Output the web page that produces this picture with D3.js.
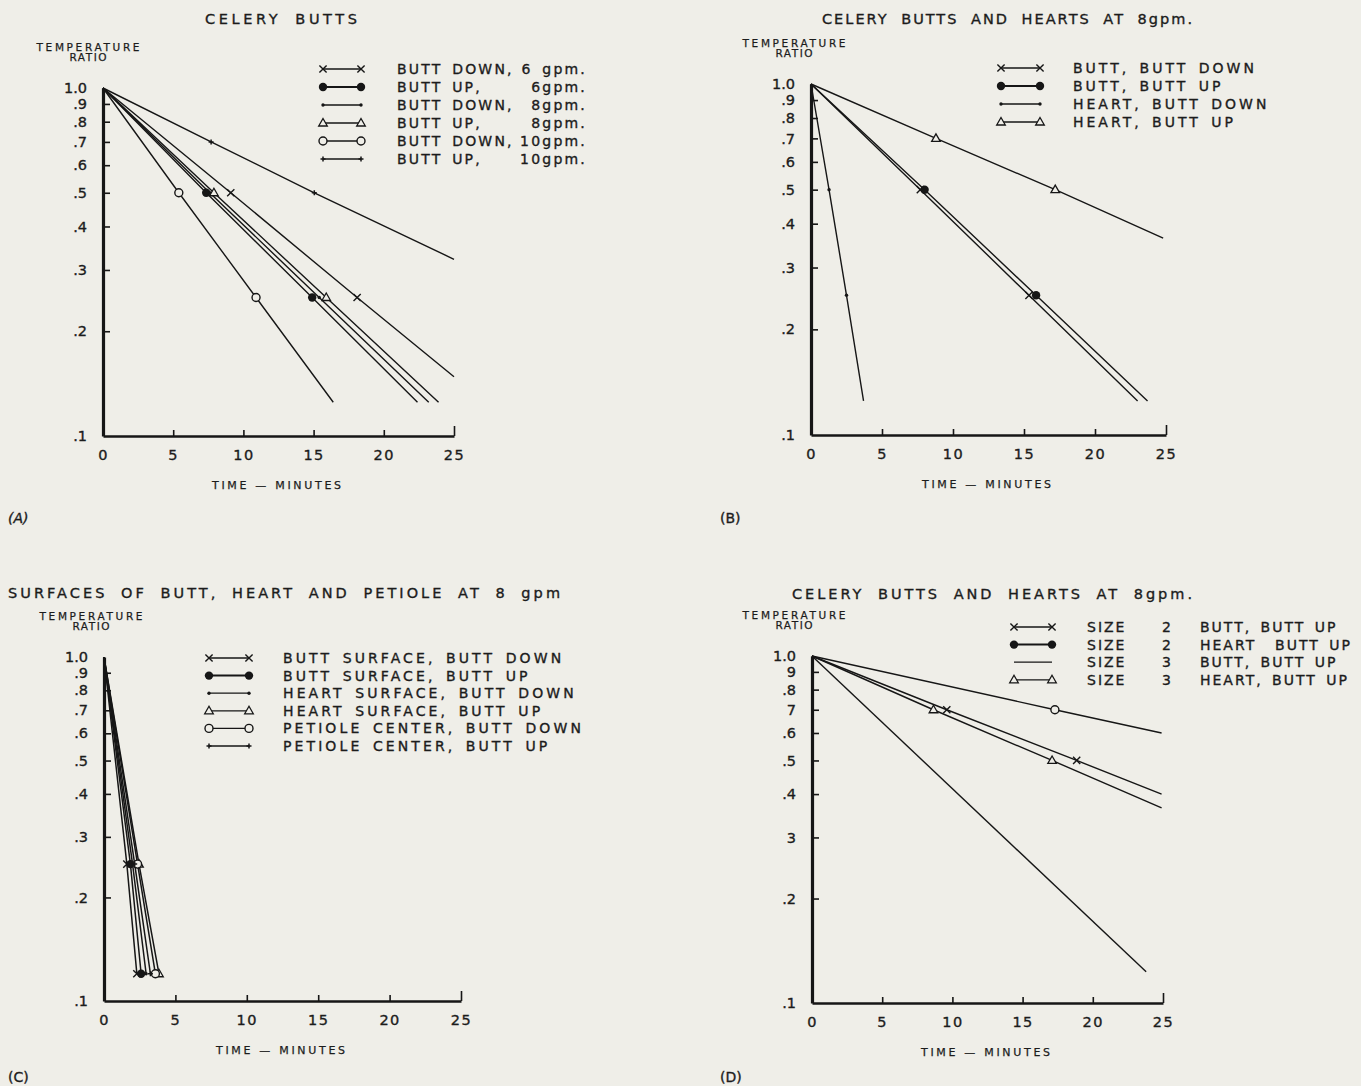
<!DOCTYPE html>
<html><head><meta charset="utf-8">
<script src="https://cdn.jsdelivr.net/npm/d3@7"></script>
<style>
body{margin:0;background:#efeee8;}
svg{display:block;}
text{font-family:"DejaVu Sans",sans-serif;fill:#1c1c1c;stroke:#1c1c1c;stroke-width:0.35px;}
</style></head><body>
<svg id="chart" width="1361" height="1086"></svg>
<script>
// Shared axis ticks
const timeTicks = [0, 5, 10, 15, 20, 25];
const ratioTicks = [1.0, 0.9, 0.8, 0.7, 0.6, 0.5, 0.4, 0.3, 0.2, 0.1];
const ratioLabels = ["1.0", ".9", ".8", ".7", ".6", ".5", ".4", ".3", ".2", ".1"];
const ratioLabelsD = ["1.0", "9", ".8", "7", ".6", ".5", ".4", "3", ".2", ".1"];

// (A) Celery butts: [minutes, temperature ratio]
const aButtDown6 = [[0, 1], [9.1, 0.5], [18.1, 0.25], [25, 0.148]];
const aButtUp6 = [[0, 1], [7.35, 0.5], [14.9, 0.25], [22.4, 0.125]];
const aButtDown8 = [[0, 1], [7.6, 0.5], [15.4, 0.25], [23.2, 0.125]];
const aButtUp8 = [[0, 1], [7.9, 0.5], [15.9, 0.25], [23.9, 0.125]];
const aButtDown10 = [[0, 1], [5.4, 0.5], [10.9, 0.25], [16.4, 0.125]];
const aButtUp10 = [[0, 1], [7.7, 0.7], [15.05, 0.5], [25, 0.322]];
const namesA = ["BUTT DOWN,", "BUTT UP,", "BUTT DOWN,", "BUTT UP,", "BUTT DOWN,", "BUTT UP,"];
const flowsA = ["6 gpm.", "6gpm.", "8gpm.", "8gpm.", "10gpm.", "10gpm."];
const markersA = ["x", "dot", "small", "tri", "circle", "plus"];

// (B) Celery butts and hearts at 8 gpm
const bButtDown = [[0, 1], [7.7, 0.5], [15.35, 0.25], [23.0, 0.125]];
const bButtUp = [[0, 1], [8.0, 0.5], [15.85, 0.25], [23.7, 0.125]];
const bHeartDown = [[0, 1], [1.27, 0.5], [2.5, 0.25], [3.7, 0.125]];
const bHeartUp = [[0, 1], [8.8, 0.7], [17.2, 0.5], [24.8, 0.364]];
const namesB = ["BUTT, BUTT DOWN", "BUTT, BUTT UP", "HEART, BUTT DOWN", "HEART, BUTT UP"];
const markersB = ["x", "dot", "small", "tri"];

// (C) Surfaces of butt, heart and petiole at 8 gpm
const cButtSurfDown = [[0, 1], [1.6, 0.25], [2.3, 0.12]];
const cButtSurfUp = [[0, 1], [1.85, 0.25], [2.6, 0.12]];
const cHeartSurfDown = [[0, 1], [2.0, 0.25], [2.95, 0.12]];
const cHeartSurfUp = [[0, 1], [2.45, 0.25], [3.85, 0.12]];
const cPetioleDown = [[0, 1], [2.35, 0.25], [3.6, 0.12]];
const cPetioleUp = [[0, 1], [2.15, 0.25], [3.25, 0.12]];
const namesC = ["BUTT SURFACE, BUTT DOWN", "BUTT SURFACE, BUTT UP", "HEART SURFACE, BUTT DOWN",
  "HEART SURFACE, BUTT UP", "PETIOLE CENTER, BUTT DOWN", "PETIOLE CENTER, BUTT UP"];
const markersC = ["x", "dot", "small", "tri", "circle", "plus"];

// (D) Celery butts and hearts at 8 gpm, by size
const dSize2Butt = [[0, 1], [9.6, 0.7], [18.85, 0.5], [24.9, 0.40]];
const dSize2Heart = [[0, 1], [17.3, 0.7], [24.9, 0.60]];
const dSize3Butt = [[0, 1], [23.8, 0.123]];
const dSize3Heart = [[0, 1], [8.65, 0.7], [17.1, 0.5], [24.9, 0.365]];
const sizesD = ["2", "2", "3", "3"];
const namesD = ["BUTT, BUTT UP", "HEART  BUTT UP", "BUTT, BUTT UP", "HEART, BUTT UP"];
const legendMarkersD = ["x", "dot", "none", "tri"];
const plotMarkersD = ["x", "circle", "none", "tri"];

const INK = "#161616";
const BG = "#efeee8";
const svg = d3.select("#chart");

function drawMarker(g, type, cx, cy) {
  const s = 3.6;
  if (type === "x") {
    g.append("path").attr("d", `M${cx - s},${cy - s}L${cx + s},${cy + s}M${cx - s},${cy + s}L${cx + s},${cy - s}`)
      .attr("stroke", INK).attr("stroke-width", 1.4).attr("fill", "none");
  } else if (type === "dot") {
    g.append("circle").attr("cx", cx).attr("cy", cy).attr("r", 4.2).attr("fill", INK);
  } else if (type === "small") {
    g.append("circle").attr("cx", cx).attr("cy", cy).attr("r", 1.7).attr("fill", INK);
  } else if (type === "tri") {
    g.append("path").attr("d", `M${cx},${cy - 4.5}L${cx + 4.3},${cy + 3}L${cx - 4.3},${cy + 3}Z`)
      .attr("stroke", INK).attr("stroke-width", 1.3).attr("fill", BG);
  } else if (type === "circle") {
    g.append("circle").attr("cx", cx).attr("cy", cy).attr("r", 4).attr("fill", BG)
      .attr("stroke", INK).attr("stroke-width", 1.4);
  } else if (type === "plus") {
    g.append("path").attr("d", `M${cx - 2.5},${cy}L${cx + 2.5},${cy}M${cx},${cy - 2.5}L${cx},${cy + 2.5}`)
      .attr("stroke", INK).attr("stroke-width", 1.5).attr("fill", "none");
  }
}

function panel(cfg) {
  const x = d3.scaleLinear().domain([0, 25]).range([cfg.x0, cfg.x1]);
  const y = d3.scaleLog().domain([0.1, 1]).range([cfg.yBot, cfg.yTop]);
  const g = svg.append("g");

  // title
  g.append("text").attr("x", cfg.titleX).attr("y", cfg.titleY)
    .attr("text-anchor", "middle").attr("dominant-baseline", "central")
    .attr("font-size", 14.5).attr("word-spacing", "6px")
    .attr("textLength", cfg.titleLen).attr("lengthAdjust", "spacing")
    .text(cfg.title);

  // y title, two lines
  g.append("text").attr("x", cfg.yTitleX).attr("y", cfg.yTop - 37.5)
    .attr("text-anchor", "middle").attr("font-size", 10.5).style("stroke-width", "0.25px")
    .attr("textLength", 103).attr("lengthAdjust", "spacing").text("TEMPERATURE");
  g.append("text").attr("x", cfg.yTitleX).attr("y", cfg.yTop - 27.5)
    .attr("text-anchor", "middle").attr("font-size", 10.5).style("stroke-width", "0.25px")
    .attr("textLength", 37).attr("lengthAdjust", "spacing").text("RATIO");

  // axes
  const yAxis = d3.axisLeft(y).tickValues(ratioTicks)
    .tickFormat((d, i) => cfg.yLabels[i]).tickSizeInner(-7).tickSizeOuter(0).tickPadding(16);
  const ya = g.append("g").attr("transform", `translate(${cfg.x0},0)`).call(yAxis);
  ya.select(".domain").attr("stroke", INK).attr("stroke-width", 3.2);
  ya.selectAll(".tick line").attr("stroke", INK).attr("stroke-width", 1.6);
  ya.selectAll(".tick text").attr("font-size", 14.5).attr("fill", INK)
    .attr("font-family", "DejaVu Sans, sans-serif");
  ya.selectAll(".tick").filter(d => d === 0.1 || d === 1).select("line").remove();

  const xAxis = d3.axisBottom(x).tickValues(timeTicks).tickFormat(d3.format("d"))
    .tickSizeInner(-6).tickSizeOuter(0).tickPadding(14);
  const xa = g.append("g").attr("transform", `translate(0,${cfg.yBot})`).call(xAxis);
  xa.select(".domain").attr("stroke", INK).attr("stroke-width", 2.6);
  xa.selectAll(".tick line").attr("stroke", INK).attr("stroke-width", 1.6);
  xa.selectAll(".tick").filter(d => d === 0).select("line").remove();
  xa.selectAll(".tick").filter(d => d === 25).select("line").attr("y2", -10);
  xa.selectAll(".tick text").attr("font-size", 14.5).attr("fill", INK)
    .attr("letter-spacing", "1.5px").attr("font-family", "DejaVu Sans, sans-serif");

  // x title
  g.append("text").attr("x", (cfg.x0 + cfg.x1) / 2 - 2).attr("y", cfg.yBot + 49)
    .attr("text-anchor", "middle").attr("dominant-baseline", "central")
    .attr("font-size", 11).style("stroke-width", "0.25px")
    .attr("textLength", 129).attr("lengthAdjust", "spacing")
    .text("TIME — MINUTES");

  // curves
  const line = d3.line().x(d => x(d[0])).y(d => y(d[1]));
  cfg.series.forEach(pts => {
    g.append("path").datum(pts).attr("d", line).attr("fill", "none")
      .attr("stroke", INK).attr("stroke-width", cfg.lineW || 1.4);
  });
  cfg.series.forEach((pts, i) => {
    const marked = cfg.markEnds ? pts.slice(1) : pts.slice(1, -1);
    marked.forEach(p => drawMarker(g, cfg.plotMarkers[i], x(p[0]), y(p[1])));
  });

  // legend
  cfg.legendRows.forEach((row, i) => {
    const ly = cfg.legY + i * cfg.legStep;
    g.append("line").attr("x1", cfg.legX0).attr("x2", cfg.legX1).attr("y1", ly).attr("y2", ly)
      .attr("stroke", INK).attr("stroke-width", cfg.legendMarkers[i] === "dot" ? 2 : 1.3);
    drawMarker(g, cfg.legendMarkers[i], cfg.legX0, ly);
    drawMarker(g, cfg.legendMarkers[i], cfg.legX1, ly);
    row.forEach(part => {
      g.append("text").attr("x", part.x).attr("y", ly).attr("dominant-baseline", "central")
        .attr("text-anchor", part.anchor || "start").attr("font-size", 14)
        .attr("letter-spacing", cfg.legLS + "px").attr("word-spacing", "3px")
        .style("white-space", "pre").text(part.t);
    });
  });

  // panel tag
  g.append("text").attr("x", cfg.tagX).attr("y", cfg.tagY).attr("font-size", 14)
    .attr("font-style", cfg.tagItalic ? "italic" : "normal").text(cfg.tag);
}

panel({
  x0: 103, x1: 454, yTop: 88, yBot: 436,
  title: "CELERY BUTTS", titleX: 281, titleY: 19, titleLen: 152,
  yTitleX: 88, yLabels: ratioLabels,
  series: [aButtDown6, aButtUp6, aButtDown8, aButtUp8, aButtDown10, aButtUp10],
  plotMarkers: markersA, legendMarkers: markersA,
  legX0: 323, legX1: 361, legY: 69, legStep: 18, legLS: 2.2,
  legendRows: namesA.map((n, i) => [{t: n, x: 397}, {t: flowsA[i], x: 587, anchor: "end"}]),
  tag: "(A)", tagX: 8, tagY: 523, tagItalic: true
});

panel({
  x0: 811, x1: 1166, yTop: 84, yBot: 435,
  title: "CELERY BUTTS AND HEARTS AT 8gpm.", titleX: 1007, titleY: 19, titleLen: 370,
  yTitleX: 794, yLabels: ratioLabels,
  series: [bButtDown, bButtUp, bHeartDown, bHeartUp],
  plotMarkers: markersB, legendMarkers: markersB,
  legX0: 1001, legX1: 1040, legY: 68, legStep: 18, legLS: 3,
  legendRows: namesB.map(n => [{t: n, x: 1073}]),
  tag: "(B)", tagX: 720, tagY: 523, tagItalic: false
});

panel({
  x0: 104, x1: 461, yTop: 657, yBot: 1001,
  title: "SURFACES OF BUTT, HEART AND PETIOLE AT 8 gpm", titleX: 284, titleY: 593, titleLen: 552,
  yTitleX: 91, yLabels: ratioLabels, lineW: 1.5, markEnds: true,
  series: [cButtSurfDown, cButtSurfUp, cHeartSurfDown, cHeartSurfUp, cPetioleDown, cPetioleUp],
  plotMarkers: markersC, legendMarkers: markersC,
  legX0: 209, legX1: 249, legY: 658, legStep: 17.6, legLS: 3.1,
  legendRows: namesC.map(n => [{t: n, x: 283}]),
  tag: "(C)", tagX: 8, tagY: 1082, tagItalic: false
});

panel({
  x0: 812, x1: 1163, yTop: 656, yBot: 1003,
  title: "CELERY BUTTS AND HEARTS AT 8gpm.", titleX: 992, titleY: 594, titleLen: 400,
  yTitleX: 794, yLabels: ratioLabelsD,
  series: [dSize2Butt, dSize2Heart, dSize3Butt, dSize3Heart],
  plotMarkers: plotMarkersD, legendMarkers: legendMarkersD,
  legX0: 1014, legX1: 1052, legY: 627, legStep: 17.6, legLS: 2,
  legendRows: namesD.map((n, i) => [{t: "SIZE", x: 1087}, {t: sizesD[i], x: 1162}, {t: n, x: 1200}]),
  tag: "(D)", tagX: 720, tagY: 1082, tagItalic: false
});
</script>
</body></html>
